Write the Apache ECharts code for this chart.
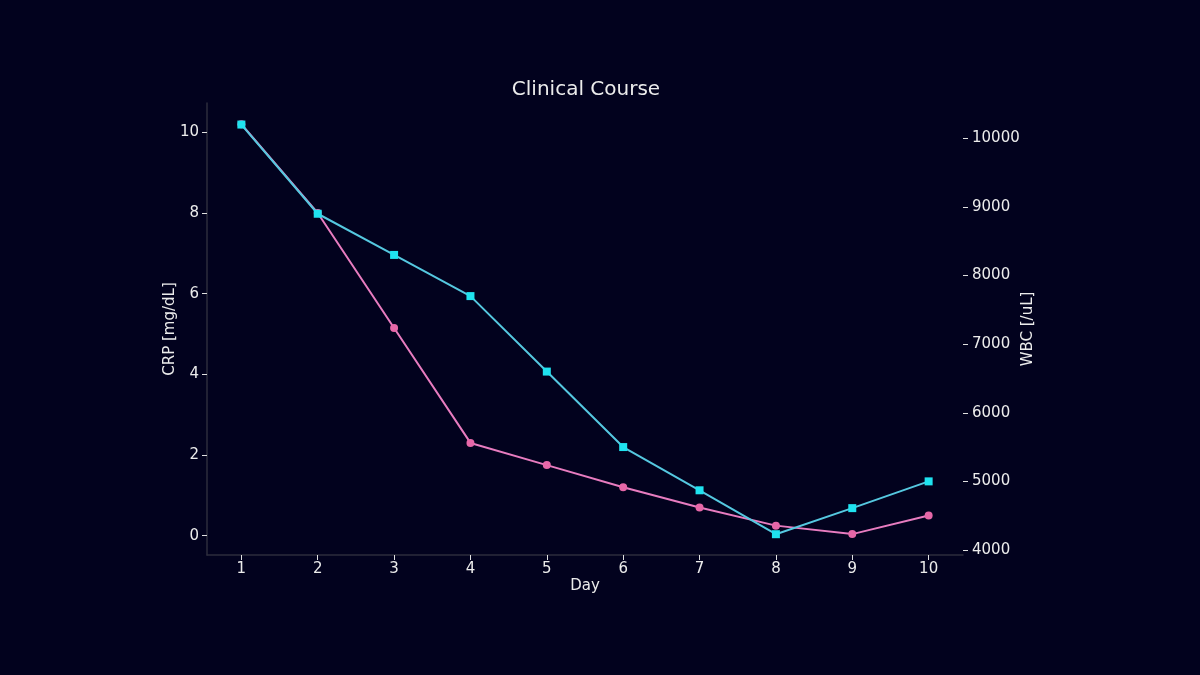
<!DOCTYPE html>
<html>
<head>
<meta charset="utf-8">
<script src="https://cdn.jsdelivr.net/npm/echarts@6/dist/echarts.min.js"></script>
<style>
html,body{margin:0;padding:0;background:#02021e;}
#chart{width:1200px;height:675px;}
</style>
</head>
<body>
<div id="chart"></div>
<script>
const days = [1, 2, 3, 4, 5, 6, 7, 8, 9, 10];
const crp = [10.2, 8.0, 5.15, 2.3, 1.75, 1.2, 0.7, 0.25, 0.04, 0.5];
const wbc = [10200, 8900, 8300, 7700, 6600, 5500, 4870, 4230, 4610, 5000];
const crpTicks = [0, 2, 4, 6, 8, 10];
const wbcTicks = [4000, 5000, 6000, 7000, 8000, 9000, 10000];

const font = 'DejaVu Sans';
const txt = '#ececec';
const chart = echarts.init(document.getElementById('chart'), null, {renderer: 'canvas'});
chart.setOption({
  backgroundColor: '#02021e',
  animation: false,
  title: {
    text: 'Clinical Course',
    left: 581, top: 75, textAlign: 'center',
    textStyle: {color: txt, fontFamily: font, fontSize: 20, fontWeight: 'normal'}
  },
  grid: {left: 207, right: 237, top: 103, bottom: 120, containLabel: false},
  xAxis: {
    type: 'value', min: 0.55, max: 10.45,
    name: 'Day', nameLocation: 'middle', nameGap: 24, nameMoveOverlap: false,
    nameTextStyle: {color: txt, fontFamily: font, fontSize: 15},
    axisLine: {show: true, onZero: false, lineStyle: {color: '#2c2c3c', width: 1.5}},
    axisTick: {show: true, length: 5, lineStyle: {color: '#e0e0e0'}, customValues: days},
    axisLabel: {color: txt, fontFamily: font, fontSize: 15, margin: 7, customValues: days},
    splitLine: {show: false}
  },
  yAxis: [{
    type: 'value', min: -0.478, max: 10.726, position: 'left',
    name: 'CRP [mg/dL]', nameLocation: 'middle', nameGap: 29, nameMoveOverlap: false,
    nameTextStyle: {color: txt, fontFamily: font, fontSize: 15},
    axisLine: {show: true, onZero: false, lineStyle: {color: '#2c2c3c', width: 1.5}},
    axisTick: {show: true, length: 5, lineStyle: {color: '#e0e0e0'}, customValues: crpTicks},
    axisLabel: {color: txt, fontFamily: font, fontSize: 15, margin: 8, customValues: crpTicks},
    splitLine: {show: false}
  }, {
    type: 'value', min: 3927, max: 10514, position: 'right',
    name: 'WBC [/uL]', nameLocation: 'middle', nameGap: 58, nameMoveOverlap: false,
    nameTextStyle: {color: txt, fontFamily: font, fontSize: 15},
    axisLine: {show: false, onZero: false},
    axisTick: {show: true, length: 5, lineStyle: {color: '#e0e0e0'}, customValues: wbcTicks},
    axisLabel: {color: txt, fontFamily: font, fontSize: 15, margin: 9, customValues: wbcTicks,
      formatter: v => String(Math.round(v))},
    splitLine: {show: false}
  }],
  series: [{
    name: 'CRP', type: 'line', yAxisIndex: 0,
    data: days.map((d, i) => [d, crp[i]]),
    symbol: 'circle', symbolSize: 8,
    lineStyle: {color: '#e87cc0', width: 2},
    itemStyle: {color: '#e667a8'}
  }, {
    name: 'WBC', type: 'line', yAxisIndex: 1,
    data: days.map((d, i) => [d, wbc[i]]),
    symbol: 'rect', symbolSize: 8,
    lineStyle: {color: '#55c8e0', width: 2},
    itemStyle: {color: '#1fe3f0'}
  }]
});
</script>
</body>
</html>
